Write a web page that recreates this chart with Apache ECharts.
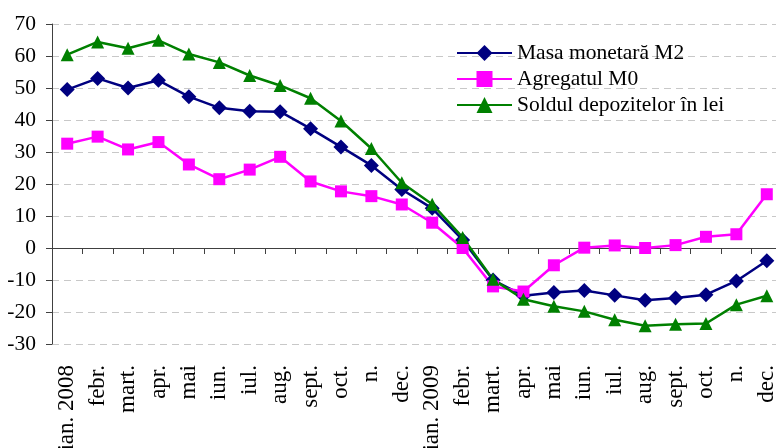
<!DOCTYPE html>
<html>
<head>
<meta charset="utf-8">
<script src="https://cdn.jsdelivr.net/npm/echarts@6/dist/echarts.min.js"></script>
<style>html,body{margin:0;padding:0;background:#fff}#c{width:776px;height:448px}</style>
</head>
<body>
<div id="c"></div>
<script>
var categories = ['ian. 2008','febr.','mart.','apr.','mai','iun.','iul.','aug.','sept.','oct.','n.','dec.',
  'ian. 2009','febr.','mart.','apr.','mai','iun.','iul.','aug.','sept.','oct.','n.','dec.'];
var masaM2 = [49.5,53,50,52.4,47.3,43.8,42.7,42.6,37.3,31.6,25.8,18.3,
  12.4,2.5,-10,-14.9,-13.9,-13.3,-14.8,-16.3,-15.6,-14.6,-10.3,-4.0];
var agregatM0 = [32.6,34.8,30.8,33.1,26.1,21.5,24.5,28.5,20.8,17.7,16.2,13.6,
  7.9,0,-12,-13.6,-5.4,0.1,0.8,0,0.9,3.5,4.3,16.8];
var depozite = [60.4,64.4,62.4,64.9,60.6,58.0,53.9,50.8,46.8,39.7,31.1,20.4,
  13.7,3.3,-9.8,-16,-18.2,-19.8,-22.4,-24.3,-23.8,-23.6,-17.7,-14.9];
var yTicks = {min: -30, max: 70, interval: 10};
var seriesNames = ['Masa monetară M2','Agregatul M0','Soldul depozitelor în lei'];

var font = 'Liberation Serif';
var fs = 21.5;
var chart = echarts.init(document.getElementById('c'), null, {renderer: 'canvas'});
chart.setOption({
  animation: false,
  backgroundColor: '#fff',
  textStyle: {fontFamily: font},
  grid: {left: 52, right: -6, top: 24, bottom: 104, containLabel: false, outerBoundsMode: 'none'},
  legend: {
    orient: 'vertical', left: 451, top: 37, itemWidth: 55, itemHeight: 20, itemGap: 4,
    textStyle: {fontFamily: font, fontSize: fs, color: '#000'},
    data: seriesNames
  },
  xAxis: [{
    type: 'category', data: categories, boundaryGap: true,
    axisLine: {onZero: true, lineStyle: {color: '#404040', width: 1}},
    axisTick: {show: true, length: 6, interval: 0, lineStyle: {color: '#404040'}},
    axisLabel: {show: false}, splitLine: {show: false}
  }, {
    type: 'category', data: categories, boundaryGap: true, position: 'bottom',
    axisLine: {show: false}, axisTick: {show: false}, splitLine: {show: false},
    axisLabel: {show: true, interval: 0, rotate: 90, margin: 21, fontFamily: font, fontSize: 23, color: '#000'}
  }],
  yAxis: {
    type: 'value', min: yTicks.min, max: yTicks.max, interval: yTicks.interval,
    axisLine: {show: true, lineStyle: {color: '#404040', width: 1}},
    axisTick: {show: true, length: 6, lineStyle: {color: '#404040'}},
    axisLabel: {margin: 16, fontFamily: font, fontSize: fs, color: '#000'},
    splitLine: {show: true, lineStyle: {color: '#c8c8c8', type: [7, 5], width: 1}}
  },
  series: [{
    name: seriesNames[0], type: 'line', data: masaM2, xAxisIndex: 0,
    symbol: 'diamond', symbolSize: 15, showAllSymbol: true,
    lineStyle: {color: '#000080', width: 2.5}, itemStyle: {color: '#000080'}
  }, {
    name: seriesNames[1], type: 'line', data: agregatM0, xAxisIndex: 0,
    symbol: 'rect', symbolSize: 12, showAllSymbol: true,
    lineStyle: {color: '#ff00ff', width: 2.5}, itemStyle: {color: '#ff00ff'}
  }, {
    name: seriesNames[2], type: 'line', data: depozite, xAxisIndex: 0,
    symbol: 'triangle', symbolSize: 13, showAllSymbol: true,
    lineStyle: {color: '#008000', width: 2.5}, itemStyle: {color: '#008000'}
  }]
});
</script>
</body>
</html>
